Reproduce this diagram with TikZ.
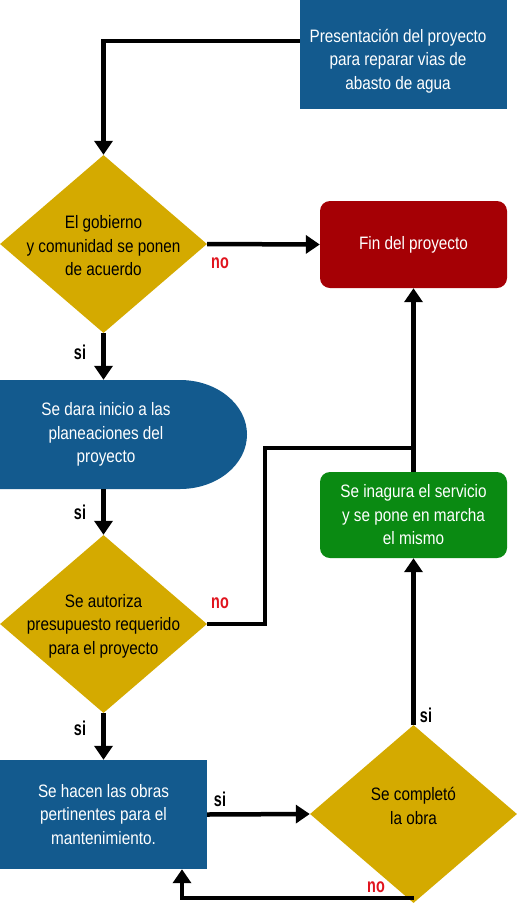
\documentclass[tikz,border=0pt]{standalone}
\usepackage{fontspec}
\setmainfont{Liberation Sans}[FakeStretch=0.85]
\newfontfamily\etiq{Liberation Sans}[FakeStretch=0.72]
\usetikzlibrary{arrows.meta}
\usetikzlibrary{shapes.geometric}
\usetikzlibrary{positioning}

\definecolor{azul}{HTML}{135A8E}
\definecolor{oro}{HTML}{D4AA00}
\definecolor{rojo}{HTML}{A50005}
\definecolor{verde}{HTML}{0A8A12}
\definecolor{rojono}{HTML}{E0141E}

\begin{document}
\begin{tikzpicture}[x=1pt, y=1pt,
    txt/.style={align=center, inner sep=0, font=\fontsize{18}{23.5}\selectfont},
    caja/.style={txt, rectangle, fill=azul, text=white, minimum width=207, minimum height=109},
    redondo/.style={txt, rectangle, rounded corners=10, text=white, minimum width=187, minimum height=87},
    rombo/.style={diamond, fill=oro, minimum width=207, minimum height=178, inner sep=0},
    flecha/.style={line width=4.5pt, -{Triangle[width=18pt,length=14pt]}},
    linea/.style={line width=4.5pt},
    si/.style={inner sep=0, font=\etiq\fontsize{20}{22}\selectfont\bfseries},
    no/.style={si, text=rojono},
  ]
    \useasboundingbox (0,0) rectangle (517,-903);

    % cajas
    \node[caja] (pres) at (403.5,-54.5) {};
    \node[txt, text=white] (tpres) at (398,-61) {Presentación del proyecto\\para reparar vias de\\abasto de agua};
    \node[redondo, fill=rojo] (fin) at (413.5,-244.5) {Fin del proyecto};
    \node[redondo, fill=verde, minimum height=86] (serv) at (413.5,-515) {Se inagura el servicio\\y se pone en marcha\\el mismo};
    \node[caja] (obras) at (103.5,-814.5) {Se hacen las obras\\pertinentes para el\\mantenimiento.};

    \fill[azul] (0,-380) -- (180,-380) arc[start angle=90, end angle=-90, x radius=67, y radius=54.5] -- (0,-489) -- cycle;
    \node[txt, text=white, minimum height=109] (plan) at (106,-434.5) {Se dara inicio a las\\planeaciones del\\proyecto};

    % decisiones
    \node[rombo] (d1) at (103.5,-244) {};
    \node[txt] (td1) at (103.5,-246) {El gobierno\\y comunidad se ponen\\de acuerdo};
    \node[rombo] (d2) at (103.5,-624) {};
    \node[txt] (td2) at (103.5,-626) {Se autoriza\\presupuesto requerido\\para el proyecto};
    \node[rombo] (d3) at (413.5,-814) {};
    \node[txt] (td3) at (413.5,-806) {Se completó\\la obra};

    \coordinate (codo) at (265,-448);
    \coordinate (union) at (413.5,-448);

    % conectores
    \draw[flecha] ([yshift=13.5]pres.west) -| (d1.north);
    \draw[flecha] (d1.east) -- (fin.west);
    \draw[flecha] (d1.south) -- (d1.south |- plan.north);
    \draw[flecha] (d1.south |- plan.south) -- (d2.north);
    \draw[linea] (d2.east) -| (codo) -- (union);
    \draw[flecha] (serv.north) -- (fin.south);
    \draw[flecha] (d2.south) -- (obras.north);
    \draw[flecha] (obras.east) -- (d3.west);
    \draw[flecha] (d3.north) -- (serv.south);
    \draw[flecha] ([yshift=5]d3.south) -| ([xshift=78.5]obras.south);

    % etiquetas
    \node[no] (no1) at (220,-263) {no};
    \node[si] (si1) at (80,-352) {si};
    \node[si] (si2) at (80,-512) {si};
    \node[no] (no2) at (220,-603) {no};
    \node[si] (si3) at (80,-728) {si};
    \node[si] (si4) at (220,-799) {si};
    \node[si] (si5) at (426,-715) {si};
    \node[no] (no3) at (376,-887) {no};

  \end{tikzpicture}
\end{document}
